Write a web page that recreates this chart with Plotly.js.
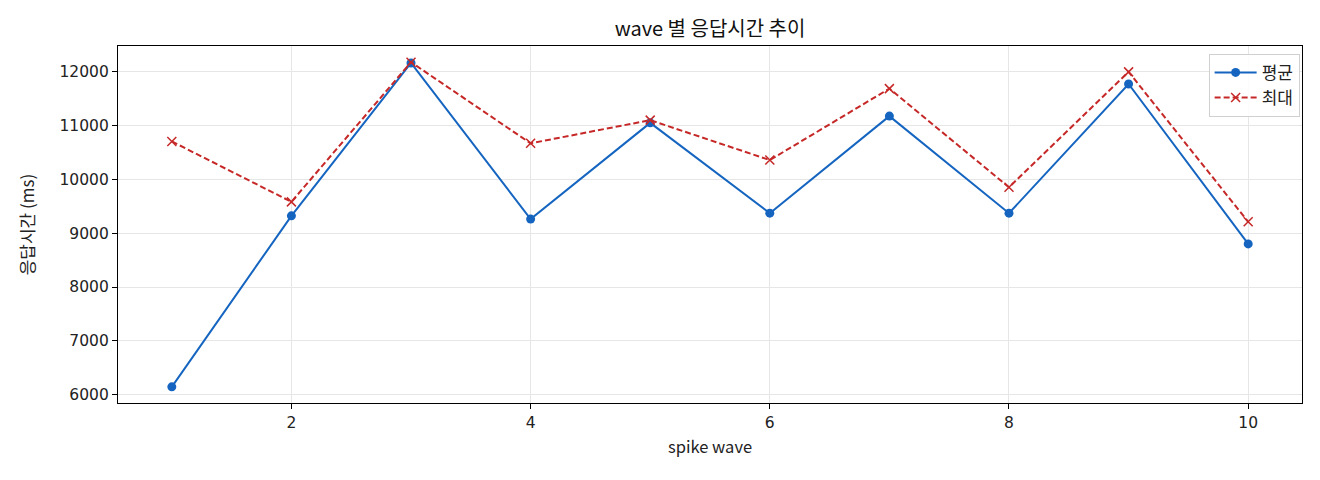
<!DOCTYPE html>
<html>
<head>
<meta charset="utf-8">
<script src="https://cdn.plot.ly/plotly-3.0.1.min.js"></script>
<style>
  html, body { margin: 0; padding: 0; background: #fff; }
  #chart { width: 1320px; height: 480px; }
</style>
</head>
<body>
<div id="chart"></div>
<script>
var waves = [1, 2, 3, 4, 5, 6, 7, 8, 9, 10];
var avgMs = [6150, 9320, 12155, 9260, 11045, 9370, 11170, 9370, 11765, 8800];
var maxMs = [10700, 9580, 12170, 10665, 11095, 10355, 11680, 9850, 11990, 9210];
var yTicks = [6000, 7000, 8000, 9000, 10000, 11000, 12000];
var xTicks = [2, 4, 6, 8, 10];

var font = "'Noto Sans CJK KR', 'Noto Sans', sans-serif";
var numFont = "'DejaVu Sans', sans-serif";

var trace1 = {
  x: waves,
  y: avgMs,
  name: '평균',
  type: 'scatter',
  mode: 'lines+markers',
  line: {color: '#1565c0', width: 2},
  marker: {color: '#1565c0', size: 9, symbol: 'circle'}
};

var trace2 = {
  x: waves,
  y: maxMs,
  name: '최대',
  type: 'scatter',
  mode: 'lines+markers',
  line: {color: '#c62828', width: 2, dash: '6px,3px'},
  marker: {color: '#c62828', size: 9, symbol: 'x-thin', line: {color: '#c62828', width: 1.5}}
};

var axisBase = {
  showline: true,
  mirror: true,
  linecolor: '#000',
  linewidth: 1.2,
  ticks: 'outside',
  ticklen: 5,
  tickcolor: '#000',
  showgrid: true,
  gridcolor: '#e6e6e6',
  gridwidth: 1,
  zeroline: false,
  tickformat: 'd',
  tickfont: {family: numFont, size: 15.5, color: '#222'}
};

var layout = {
  width: 1320,
  height: 480,
  margin: {l: 118, r: 18, t: 46, b: 77},
  paper_bgcolor: '#fff',
  plot_bgcolor: '#fff',
  font: {family: font, color: '#222'},
  title: {text: 'wave 별 응답시간 추이', font: {family: font, size: 20, color: '#111'},
          xref: 'paper', x: 0.5, xanchor: 'center', y: 0.94, yanchor: 'middle'},
  xaxis: Object.assign({}, axisBase, {
    range: [0.55, 10.45],
    tickvals: xTicks,
    title: {text: 'spike wave', font: {family: font, size: 16.5}, standoff: 10}
  }),
  yaxis: Object.assign({}, axisBase, {
    range: [5850, 12470],
    tickvals: yTicks
  }),
  annotations: [{
    text: '응답시간 (ms)',
    xref: 'paper', yref: 'paper',
    x: -0.077, y: 0.5,
    xanchor: 'center', yanchor: 'middle',
    textangle: -90,
    showarrow: false,
    font: {family: font, size: 17, color: '#222'}
  }],
  legend: {
    x: 0.998, xanchor: 'right', y: 0.978, yanchor: 'top',
    bordercolor: '#d0d0d0', borderwidth: 1, bgcolor: 'rgba(255,255,255,0.85)',
    font: {family: font, size: 17},
    itemwidth: 42,
    tracegroupgap: 0
  },
  showlegend: true
};

Plotly.newPlot('chart', [trace1, trace2], layout, {displayModeBar: false});
</script>
</body>
</html>
